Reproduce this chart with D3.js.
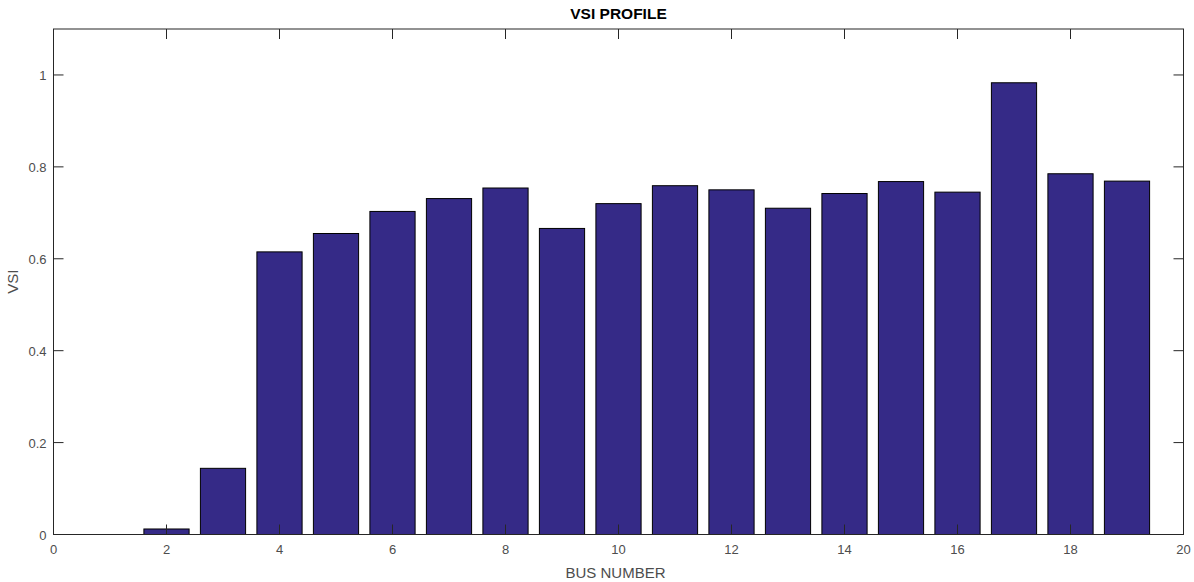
<!DOCTYPE html>
<html>
<head>
<meta charset="utf-8">
<script src="https://cdn.jsdelivr.net/npm/d3@7"></script>
<style>
  body { margin: 0; background: #fff; }
  svg { display: block; font-family: "Liberation Sans", Arial, sans-serif; }
</style>
</head>
<body>
<svg id="chart" width="1194" height="582"></svg>
<script>
// Bus numbers and voltage stability index per bus
const buses = [1, 2, 3, 4, 5, 6, 7, 8, 9, 10, 11, 12, 13, 14, 15, 16, 17, 18, 19];
const vsi = [0, 0.012, 0.144, 0.615, 0.655, 0.703, 0.731, 0.754, 0.666, 0.720,
             0.759, 0.750, 0.710, 0.742, 0.768, 0.745, 0.983, 0.785, 0.769];
const xTicks = [0, 2, 4, 6, 8, 10, 12, 14, 16, 18, 20];
const yTicks = [0, 0.2, 0.4, 0.6, 0.8, 1];

const svg = d3.select("#chart");
const margin = { left: 53.5, right: 10.5, top: 29, bottom: 47.5 };
const W = 1194, H = 582;
const x = d3.scaleLinear().domain([0, 20]).range([margin.left, W - margin.right]);
const y = d3.scaleLinear().domain([0, 1.1]).range([H - margin.bottom, margin.top]);
const barW = 0.8;
const axisColor = "#262626";
const labelColor = "#4d4d4d";

// Bars
svg.append("g").selectAll("rect").data(buses).join("rect")
  .attr("x", (d) => x(d - barW / 2))
  .attr("width", (d) => x(d + barW / 2) - x(d - barW / 2))
  .attr("y", (d, i) => y(vsi[i]))
  .attr("height", (d, i) => y(0) - y(vsi[i]))
  .attr("fill", "#352a87")
  .attr("stroke", "#000")
  .attr("stroke-width", 1);

// Box and inward ticks on all four sides
const tickLen = 10;
const axes = svg.append("g").attr("stroke", axisColor).attr("stroke-width", 1).attr("fill", "none");
axes.append("rect")
  .attr("x", x(0)).attr("y", y(1.1))
  .attr("width", x(20) - x(0)).attr("height", y(0) - y(1.1));
xTicks.forEach((t) => {
  axes.append("line").attr("x1", x(t)).attr("x2", x(t)).attr("y1", y(0)).attr("y2", y(0) - tickLen);
  axes.append("line").attr("x1", x(t)).attr("x2", x(t)).attr("y1", y(1.1)).attr("y2", y(1.1) + tickLen);
});
yTicks.forEach((t) => {
  axes.append("line").attr("x1", x(0)).attr("x2", x(0) + tickLen).attr("y1", y(t)).attr("y2", y(t));
  axes.append("line").attr("x1", x(20)).attr("x2", x(20) - tickLen).attr("y1", y(t)).attr("y2", y(t));
});

// Tick labels
svg.append("g").selectAll("text").data(xTicks).join("text")
  .attr("x", (d) => x(d)).attr("y", y(0) + 19)
  .attr("text-anchor", "middle").attr("font-size", 13).attr("fill", labelColor)
  .text((d) => d);
svg.append("g").selectAll("text").data(yTicks).join("text")
  .attr("x", x(0) - 7).attr("y", (d) => y(d) + 5)
  .attr("text-anchor", "end").attr("font-size", 13).attr("fill", labelColor)
  .text((d) => d3.format("~g")(d));

// Titles
svg.append("text").attr("x", (x(0) + x(20)) / 2).attr("y", 19)
  .attr("text-anchor", "middle").attr("font-size", 15.5).attr("font-weight", "bold")
  .attr("fill", "#000").text("VSI PROFILE");
svg.append("text").attr("x", (x(0) + x(20)) / 2 - 3).attr("y", 578)
  .attr("text-anchor", "middle").attr("font-size", 15).attr("fill", labelColor)
  .text("BUS NUMBER");
svg.append("text")
  .attr("transform", `translate(18,${(y(0) + y(1.1)) / 2}) rotate(-90)`)
  .attr("text-anchor", "middle").attr("font-size", 15).attr("fill", labelColor)
  .text("VSI");
</script>
</body>
</html>
